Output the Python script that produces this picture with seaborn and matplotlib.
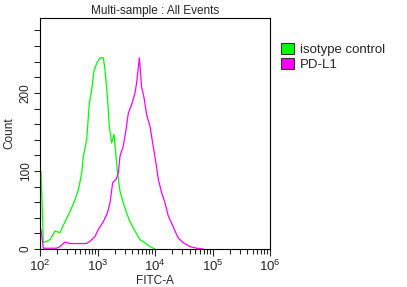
import numpy as np
import pandas as pd
import seaborn as sns
import matplotlib.pyplot as plt
from matplotlib.patches import Patch
from matplotlib.ticker import LogLocator, MultipleLocator, NullFormatter

# lecturas del histograma (log10 FITC-A, conteo)
iso_log = [2.017, 2.058, 2.174, 2.261, 2.348, 2.435, 2.522, 2.609, 2.667, 2.725,
           2.754, 2.812, 2.858, 2.899, 2.939, 2.986, 3.043, 3.101, 3.130, 3.171,
           3.206, 3.246, 3.287, 3.322, 3.345, 3.391, 3.449, 3.507, 3.565, 3.652,
           3.739, 3.826, 3.913, 4.000]
iso_count = [100, 8, 12, 23, 21, 35, 48, 63, 76, 97,
             119, 140, 187, 204, 228, 238, 245, 245, 230, 196,
             157, 136, 147, 119, 100, 74, 59, 46, 35, 23,
             12, 8, 3, 0]

pd_log = [2.017, 2.058, 2.290, 2.348, 2.435, 2.522, 2.696, 2.812, 2.870, 2.957,
          3.014, 3.101, 3.171, 3.217, 3.264, 3.322, 3.362, 3.391, 3.449, 3.496,
          3.536, 3.594, 3.652, 3.681, 3.728, 3.768, 3.809, 3.855, 3.913, 3.959,
          4.017, 4.058, 4.116, 4.174, 4.232, 4.290, 4.348, 4.406, 4.493, 4.609,
          4.725, 4.840]
pd_count = [25, 1, 1, 3, 9, 7, 7, 7, 10, 16,
            25, 35, 46, 59, 85, 89, 97, 119, 132, 153,
            174, 185, 200, 213, 245, 207, 194, 172, 157, 136,
            110, 89, 72, 59, 42, 33, 23, 14, 8, 3,
            1, 0]

etiquetas = ['isotype control', 'PD-L1']
colores = ['#00ff00', '#ff00ff']

df_iso = pd.DataFrame({'FITC': np.power(10, iso_log), 'Count': iso_count})
df_pd = pd.DataFrame({'FITC': np.power(10, pd_log), 'Count': pd_count})

sns.set_style('ticks')
plt.rcParams['font.family'] = ['Liberation Sans', 'DejaVu Sans']

fig = plt.figure(figsize=(4.07, 2.87), dpi=100)
ax = fig.add_axes([40 / 407, 1 - 249 / 287, 230 / 407, 231 / 287])

sns.lineplot(data=df_iso, x='FITC', y='Count', color=colores[0], lw=0.9, ax=ax)
sns.lineplot(data=df_pd, x='FITC', y='Count', color=colores[1], lw=0.9, ax=ax)

ax.set_xscale('log')
ax.set_xlim(1e2, 1e6)
ax.set_ylim(0, 296)
ax.xaxis.set_major_locator(LogLocator(base=10, numticks=10))
ax.xaxis.set_minor_locator(LogLocator(base=10, subs=np.arange(2, 10), numticks=100))
ax.xaxis.set_minor_formatter(NullFormatter())
ax.yaxis.set_major_locator(MultipleLocator(100))
ax.yaxis.set_minor_locator(MultipleLocator(20))

ax.tick_params(axis='x', which='major', length=5, width=0.8, labelsize=9.5, pad=2)
ax.tick_params(axis='x', which='minor', length=3.5, width=0.8)
ax.tick_params(axis='y', which='both', length=4, width=0.8, labelsize=8.5, pad=2)
for lab in ax.get_yticklabels():
    lab.set_rotation(90)
    lab.set_va('center')

for s in ax.spines.values():
    s.set_visible(True)
    s.set_linewidth(0.8)
    s.set_color('black')

ax.set_title('Multi-sample : All Events', fontsize=8.5, pad=3)
ax.set_xlabel('FITC-A', fontsize=8.5, labelpad=1)
ax.set_ylabel('Count', fontsize=8.5, labelpad=3)

handles = [Patch(facecolor=c, edgecolor='#333333', lw=0.8) for c in colores]
fig.legend(handles, etiquetas, loc='upper left', bbox_to_anchor=(272 / 407, 1 - 34 / 287),
           frameon=False, fontsize=9.5, handlelength=1.0, handleheight=0.9,
           handletextpad=0.4, labelspacing=0.1, borderpad=0.2)

fig.savefig('out.png', dpi=100)
